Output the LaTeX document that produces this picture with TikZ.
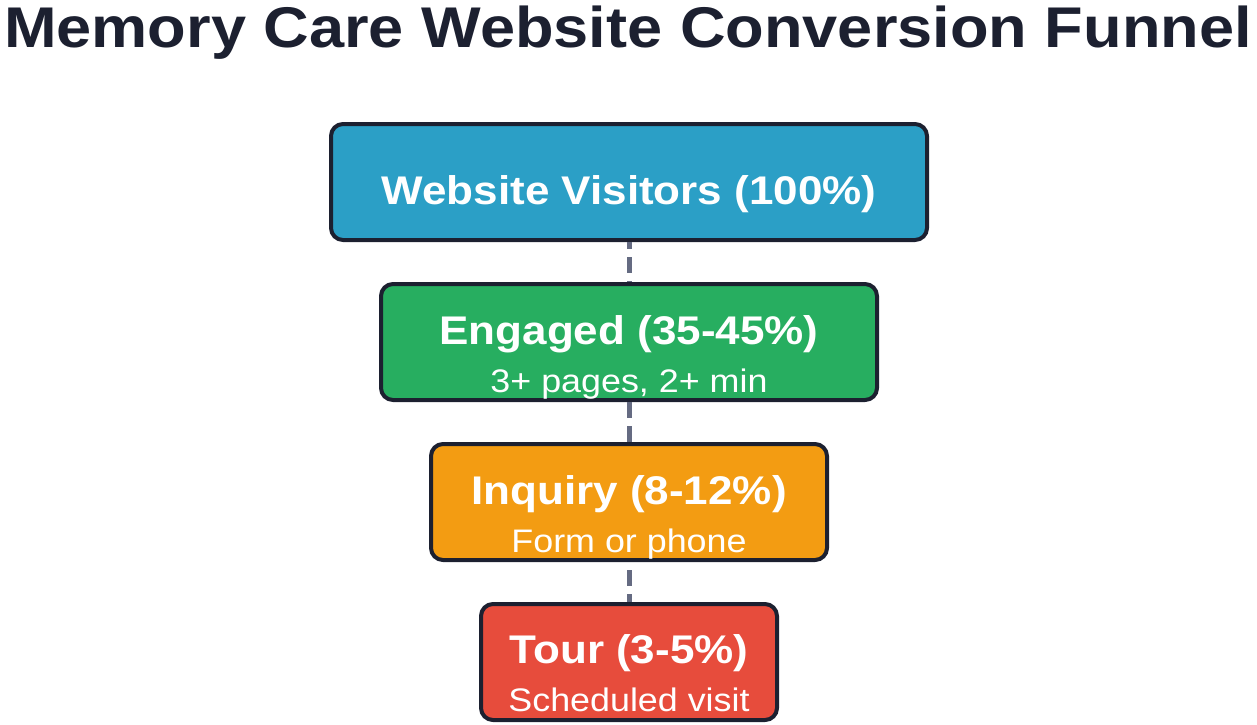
\documentclass[tikz,border=0pt]{standalone}
\usepackage{fontspec}
\setmainfont{Liberation Sans}[FakeStretch=1.1]
\usepackage{xcolor}
\usepackage{tikz}
\definecolor{navyink}{HTML}{1C2030}
\definecolor{visitblue}{HTML}{2B9FC6}
\definecolor{engagegreen}{HTML}{27AE60}
\definecolor{inquiryorange}{HTML}{F39C12}
\definecolor{tourred}{HTML}{E74C3C}
\definecolor{slateflow}{HTML}{656B82}
\begin{document}
\begin{tikzpicture}[line join=round,x=1pt,y=-1pt,
	stage/.style={draw=navyink,line width=4pt,rounded corners=12pt,minimum height=116pt,inner sep=0pt},
	headtext/.style={anchor=base,inner sep=0pt,text=white,font=\fontsize{40}{48}\selectfont\bfseries},
	subtext/.style={anchor=base,inner sep=0pt,text=white,font=\fontsize{32.6}{38}\selectfont},
	flow/.style={draw=slateflow,line width=5pt,dash pattern=on 16pt off 8pt}]
			\useasboundingbox (0,0) rectangle (1257,724);
			\node[anchor=base,inner sep=0pt,text=navyink,font=\fontsize{57.4}{70}\selectfont\bfseries] (title) at (628,47) {Memory Care Website Conversion Funnel};
			\node[stage,fill=visitblue,minimum width=596pt] (visitors) at (629,182) {};
			\node[stage,fill=engagegreen,minimum width=496pt] (engaged) at (629,342) {};
			\node[stage,fill=inquiryorange,minimum width=396pt] (inquiry) at (629,502) {};
			\node[stage,fill=tourred,minimum width=296pt] (tour) at (629,662) {};
			\draw[flow,dash phase=9pt] (visitors.south) -- (engaged.north);
			\draw[flow] (engaged.south) -- (inquiry.north);
			\draw[flow,dash phase=16pt] (inquiry.south) -- (tour.north);
			\node[headtext] (visitorshead) at (629,204) {Website Visitors (100\%)};
			\node[headtext] (engagedhead) at (629,344) {Engaged (35-45\%)};
			\node[subtext] (engagedsub) at (629,392) {3+ pages, 2+ min};
			\node[headtext] (inquiryhead) at (629,504) {Inquiry (8-12\%)};
			\node[subtext] (inquirysub) at (629,552) {Form or phone};
			\node[headtext] (tourhead) at (629,663) {Tour (3-5\%)};
			\node[subtext] (toursub) at (629,711) {Scheduled visit};
		\end{tikzpicture}
\end{document}
